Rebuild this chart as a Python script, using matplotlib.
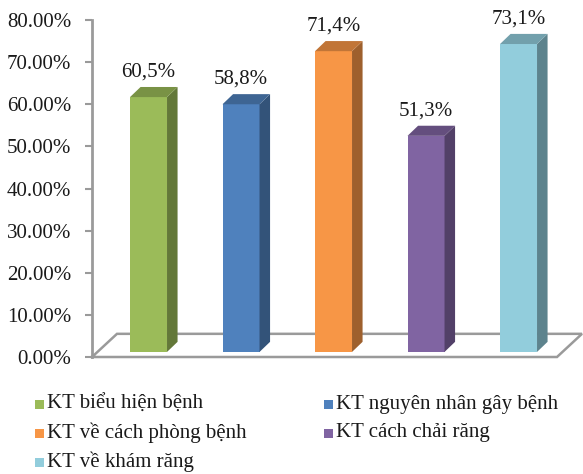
import numpy as np
import matplotlib.pyplot as plt
from matplotlib.colors import to_rgb
from matplotlib.patches import Rectangle

# Data
categories = ['KT biểu hiện bệnh', 'KT nguyên nhân gây bệnh', 'KT về cách phòng bệnh',
              'KT cách chải răng', 'KT về khám răng']
values = [60.5, 58.8, 71.4, 51.3, 73.1]
value_labels = ['60,5%', '58,8%', '71,4%', '51,3%', '73,1%']
colors = ['#9BBB59', '#4F81BD', '#F79646', '#8064A2', '#92CDDC']
yticks = [0, 10, 20, 30, 40, 50, 60, 70, 80]
ytick_labels = ['%.2f%%' % t for t in yticks]

W, H = 583, 474
plt.rcParams['font.family'] = ['Liberation Serif', 'DejaVu Serif']

fig = plt.figure(figsize=(W / 100, H / 100), dpi=100)
ax = fig.add_axes([92 / W, 1 - 357 / H, (W - 92) / W, 337 / H])
ax.set_xlim(-0.611, 4.697)
ax.set_ylim(0, 80)

grey = '#9a9a9a'
for s in ['top', 'right', 'bottom']:
    ax.spines[s].set_visible(False)
ax.spines['left'].set_color(grey)
ax.spines['left'].set_linewidth(2)
ax.set_xticks([])
ax.set_yticks(yticks)
ax.set_yticklabels(ytick_labels, fontsize=15, color='#1a1a1a')
ax.tick_params(axis='y', length=5, width=1.5, color=grey, pad=10)

# floor (pseudo 3D)
x0, x1 = ax.get_xlim()[0], 4.416
fdx, fdy = 0.27, 5.5
floor_x = [x0, x1, x1 + fdx, x0 + fdx, x0]
floor_y = [0, 0, fdy, fdy, 0]
ax.plot(floor_x, floor_y, color=grey, lw=1.8, clip_on=False, zorder=1,
        solid_joinstyle='miter')

# bars (pseudo 3D)
w, bdx, bdy, base = 0.4, 0.114, 2.4, 1.2


def shade(c, f):
    return tuple(np.array(to_rgb(c)) * f)


for i, (v, c, lab) in enumerate(zip(values, colors, value_labels)):
    l, r = i - w / 2, i + w / 2
    top = base + v
    ax.fill([l, r, r, l], [base, base, top, top], color=c, zorder=3, lw=0)
    ax.fill([r, r + bdx, r + bdx, r], [base, base + bdy, top + bdy, top],
            color=shade(c, 0.64), zorder=3, lw=0)
    ax.fill([l, r, r + bdx, l + bdx], [top, top, top + bdy, top + bdy],
            color=shade(c, 0.78), zorder=3, lw=0, clip_on=False)
    ax.text(i, top + bdy + 1.3, lab, ha='center', va='bottom', fontsize=15,
            color='#1a1a1a', clip_on=False)

# legend
for i, (name, c) in enumerate(zip(categories, colors)):
    col, row = i % 2, i // 2
    lx = [35, 324][col]
    ly = 404 + 29 * row
    fig.patches.append(Rectangle((lx / W, 1 - (ly + 4.5) / H), 9 / W, 9 / H,
                                 transform=fig.transFigure, facecolor=c,
                                 edgecolor='none'))
    fig.text((lx + 12) / W, 1 - ly / H, name, fontsize=15, va='center',
             ha='left', color='#1a1a1a')

fig.savefig('out.png', dpi=100)
